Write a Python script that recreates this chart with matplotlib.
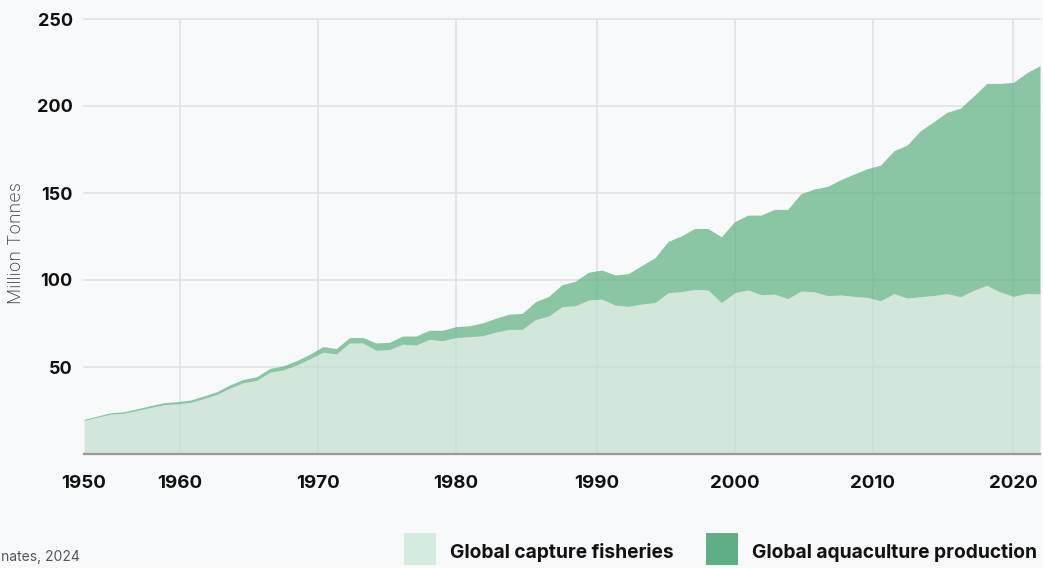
import matplotlib
matplotlib.use("Agg")
import matplotlib.pyplot as plt
from matplotlib.patches import Rectangle
import numpy as np

# ---------------- data ----------------
years = list(range(1950, 2023))

capture = [
    19.3, 21.1, 22.9, 23.4, 25.0, 26.7, 28.3, 28.8, 29.6, 31.8, 34.2, 37.9, 40.9, 42.3, 47.0, 48.3, 51.1, 54.7,
    58.5, 57.5, 63.8, 63.8, 59.6, 60.0, 63.1, 62.6, 65.9, 65.1, 66.9, 67.4, 67.9,
    70.0, 71.6, 71.6, 77.2, 79.3, 84.7, 85.2, 88.5, 89.0, 85.6, 84.9, 86.2, 87.0,
    92.7, 93.3, 94.6, 94.3, 87.0, 92.7, 94.3, 91.5, 91.9, 89.3, 93.7, 93.2, 91.0,
    91.4, 90.6, 90.0, 88.1, 92.2, 89.6, 90.4, 91.1, 92.2, 90.4, 94.1, 96.9, 93.1, 90.6, 92.3, 92.0,
]

aquaculture = [
    0.6, 0.7, 0.8, 0.9, 1.0, 1.1, 1.2, 1.3, 1.4, 1.5, 1.6, 1.8, 2.0, 2.1, 2.2, 2.3, 2.5, 2.6,
    3.2, 3.1, 3.1, 3.2, 4.2, 4.2, 4.7, 5.2, 5.2, 6.0, 6.3, 6.3, 7.4,
    8.0, 8.7, 9.2, 10.3, 11.3, 12.6, 14.1, 16.0, 16.7, 17.3, 18.8, 22.1, 25.8,
    29.5, 32.1, 35.0, 35.3, 37.8, 40.8, 43.0, 45.8, 48.7, 51.3, 55.9, 59.1, 62.8,
    66.3, 70.3, 74.0, 78.0, 82.1, 88.0, 95.4, 99.9, 104.2, 108.3, 111.6, 116.1, 119.9, 123.0, 126.8, 131.2,
]

x_tick_labels = ["1950", "1960", "1970", "1980", "1990", "2000", "2010", "2020"]
y_ticks = [50, 100, 150, 200, 250]
series_names = ["Global capture fisheries", "Global aquaculture production"]
source_text = "nates, 2024"

# ---------------- styling ----------------
BG = "#f8f9fb"
CAPTURE_C = "#c2decc"
AQUA_C = "#5baf80"
GRID_C = "#e4e3e8"
FONT = "Inter"

plt.rcParams["font.family"] = [FONT, "DejaVu Sans"]

W, H = 1043, 568
fig = plt.figure(figsize=(W / 100, H / 100), dpi=100, facecolor=BG)

# axes placed in pixel terms
left, right, top, bottom = 84, 1040, 19, 454
ax = fig.add_axes([left / W, 1 - bottom / H, (right - left) / W, (bottom - top) / H])
ax.set_facecolor(BG)

yrs = np.array(years)
cap = np.array(capture)
aq = np.array(aquaculture)
total = cap + aq

ax.fill_between(yrs, 0, cap, color=CAPTURE_C, alpha=0.7, lw=0, zorder=3)
ax.fill_between(yrs, cap, total, color=AQUA_C, alpha=0.7, lw=0, zorder=3)

ax.set_xlim(years[0], years[-1])
ax.set_ylim(0, 250)

# tick label positions (layout of the original axis)
x_tick_pos = [1950, 1957.2, 1967.6, 1978.0, 1988.6, 1999.0, 2009.4, 2020.0]
ax.set_xticks(x_tick_pos)
ax.set_xticklabels(x_tick_labels, fontsize=13.5, fontweight="bold", color="#111111")
ax.set_yticks(y_ticks)
ax.set_yticklabels([str(v) for v in y_ticks], fontsize=13, fontweight="bold", color="#111111")
ax.tick_params(axis="both", length=0)
ax.tick_params(axis="x", pad=15)
ax.tick_params(axis="y", pad=8)

# grid lines
for yv in y_ticks:
    ax.axhline(yv, color=GRID_C, lw=1.3, zorder=1, clip_on=False)
for xv in x_tick_pos[1:]:
    ax.axvline(xv, color=GRID_C, lw=1.3, zorder=1)

for s in ["top", "right", "left"]:
    ax.spines[s].set_visible(False)
ax.spines["bottom"].set_color("#9a9a9a")
ax.spines["bottom"].set_linewidth(1.6)
ax.spines["bottom"].set_zorder(5)

# y axis title
fig.text(17 / W, 1 - 243 / H, "Million Tonnes", rotation=90, fontsize=13, color="#3a3a3a",
         ha="center", va="center", fontweight="light")

# legend (manual)
sw = 32
for xs, name, col in [(404, series_names[0], "#d4ebdf"), (706, series_names[1], "#5fae88")]:
    fig.add_artist(Rectangle((xs / W, 1 - 565 / H), sw / W, sw / H,
                             transform=fig.transFigure, color=col, lw=0))
    fig.text((xs + sw + 14) / W, 1 - 552 / H, name, fontsize=13.8, fontweight="bold",
             color="#111111", va="center", ha="left")

# source line (only its visible end is shown in the original)
fig.text(1 / W, 1 - 557 / H, source_text, fontsize=10, color="#555555",
         va="center", ha="left")

fig.savefig("out.png", dpi=100, facecolor=BG)
